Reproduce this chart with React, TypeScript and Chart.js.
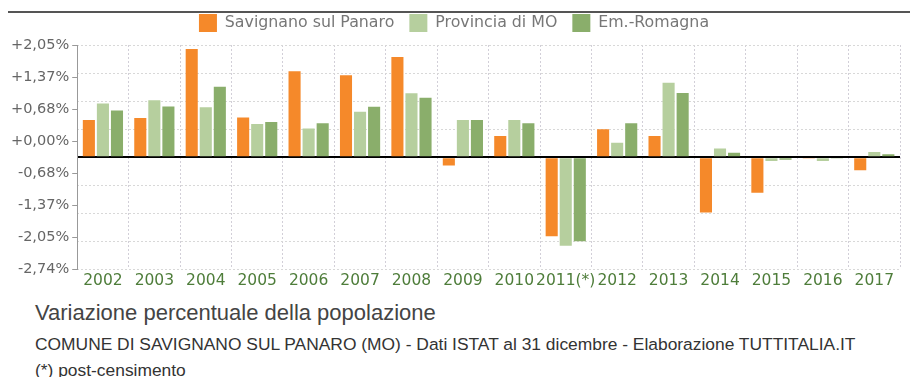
import React, { useEffect, useRef } from "react";
import { Chart, registerables } from "chart.js";

Chart.register(...registerables);

const categories = [
  "2002", "2003", "2004", "2005", "2006", "2007", "2008", "2009",
  "2010", "2011(*)", "2012", "2013", "2014", "2015", "2016", "2017",
];
const savignano = [0.91, 0.96, 2.64, 0.97, 2.1, 2.0, 2.45, -0.2, 0.52, -1.93, 0.68, 0.52, -1.35, -0.87, -0.03, -0.32];
const provincia = [1.31, 1.39, 1.22, 0.81, 0.7, 1.11, 1.56, 0.91, 0.91, -2.16, 0.35, 1.82, 0.21, -0.09, -0.09, 0.13];
const emilia = [1.14, 1.24, 1.72, 0.86, 0.83, 1.23, 1.45, 0.91, 0.83, -2.05, 0.83, 1.57, 0.11, -0.06, -0.02, 0.07];
const seriesNames = ["Savignano sul Panaro", "Provincia di MO", "Em.-Romagna"];
const yTickLabels = ["+2,05%", "+1,37%", "+0,68%", "+0,00%", "-0,68%", "-1,37%", "-2,05%", "-2,74%"];
const gridValues = [-2.74, -2.055, -1.37, -0.685, 0, 0.685, 1.37, 2.055, 2.74];
const titleText = "Variazione percentuale della popolazione";
const sourceText = "COMUNE DI SAVIGNANO SUL PANARO (MO) - Dati ISTAT al 31 dicembre - Elaborazione TUTTITALIA.IT";
const noteText = "(*) post-censimento";

const isZero = (ctx: any) => ctx && ctx.tick && Math.abs(ctx.tick.value) < 1e-9;

const legendSpacing = {
  id: "legendSpacing",
  beforeInit(chart: any) {
    const legend = chart.legend;
    if (!legend) return;
    const orig = legend.fit;
    legend.fit = function () {
      orig.call(this);
      this.height += 3;
    };
  },
};

export default function App() {
  const ref = useRef<HTMLCanvasElement | null>(null);

  useEffect(() => {
    document.documentElement.style.overflow = "hidden";
    const canvas = ref.current;
    if (!canvas) return;
    const chart = new Chart(canvas, {
      type: "bar",
      data: {
        labels: categories,
        datasets: [
          { label: seriesNames[0], data: savignano, backgroundColor: "#F5892A" },
          { label: seriesNames[1], data: provincia, backgroundColor: "#B6CF9E" },
          { label: seriesNames[2], data: emilia, backgroundColor: "#8AAE6B" },
        ].map((d) => ({ ...d, borderWidth: 0, categoryPercentage: 0.82, barPercentage: 0.86, yAxisID: "y" })),
      },
      plugins: [legendSpacing],
      options: {
        animation: false,
        responsive: false,
        layout: { padding: { top: 0, left: 0, right: 18, bottom: 6 } },
        font: { family: "'DejaVu Sans', sans-serif" },
        plugins: {
          legend: {
            position: "top",
            labels: {
              boxWidth: 18,
              boxHeight: 18,
              padding: 15,
              color: "#777",
              font: { size: 15.8, family: "'DejaVu Sans', sans-serif" },
            },
          },
          tooltip: { enabled: false },
        },
        scales: {
          x: {
            grid: { color: "#d2cfd8", drawTicks: false, offset: true },
            border: { display: false, dash: [2, 2] },
            ticks: {
              color: "#4e7d3a",
              autoSkip: false,
              maxRotation: 0,
              minRotation: 0,
              padding: 2,
              font: { size: 15.5, family: "'DejaVu Sans', sans-serif" },
            },
          },
          y: {
            position: "left",
            min: -2.74,
            max: 2.74,
            afterBuildTicks: (s: any) => {
              s.ticks = gridValues.map((v) => ({ value: v }));
            },
            ticks: { display: false },
            grid: {
              drawTicks: false,
              color: (ctx: any) => (isZero(ctx) ? "#000" : "#d8d8d8"),
              lineWidth: (ctx: any) => (isZero(ctx) ? 2 : 1),
            },
            border: { display: false, dash: (ctx: any) => (isZero(ctx) ? [] : [2, 2]) },
          },
          yl: {
            position: "left",
            min: 0,
            max: yTickLabels.length - 1,
            afterBuildTicks: (s: any) => {
              s.ticks = yTickLabels.map((_, i) => ({ value: i }));
            },
            ticks: {
              callback: (v: any) => yTickLabels[yTickLabels.length - 1 - Number(v)],
              color: "#666",
              padding: 3,
              font: { size: 14.5, family: "'DejaVu Sans', sans-serif" },
            },
            grid: { drawOnChartArea: false, drawTicks: true, tickLength: 5, color: "#999" },
            border: { display: true, color: "#999" },
          },
        },
      } as any,
    });
    return () => chart.destroy();
  }, []);

  return (
    <div style={{ position: "relative", width: 910, height: 369 }}>
      <canvas
        ref={ref}
        width={910}
        height={299}
        style={{ position: "absolute", left: 0, top: -9, width: 910, height: 299, zIndex: 1 }}
      />
      <div style={{ position: "absolute", left: -2, top: 3, width: 912, height: 2, background: "#555", zIndex: 5 }} />
      <div style={{ position: "absolute", left: -2, top: 3, width: 2, height: 374, background: "#555", zIndex: 5 }} />
      <div
        style={{
          position: "absolute", left: 27, top: 294, whiteSpace: "nowrap",
          font: "22px/22px 'Liberation Sans', Arial, sans-serif", color: "#444",
        }}
      >
        {titleText}
      </div>
      <div
        style={{
          position: "absolute", left: 27, top: 328, whiteSpace: "nowrap",
          font: "17.4px/17px 'Liberation Sans', Arial, sans-serif", color: "#333",
        }}
      >
        {sourceText}
      </div>
      <div
        style={{
          position: "absolute", left: 27, top: 354, whiteSpace: "nowrap",
          font: "17.4px/17px 'Liberation Sans', Arial, sans-serif", color: "#333",
        }}
      >
        {noteText}
      </div>
    </div>
  );
}
